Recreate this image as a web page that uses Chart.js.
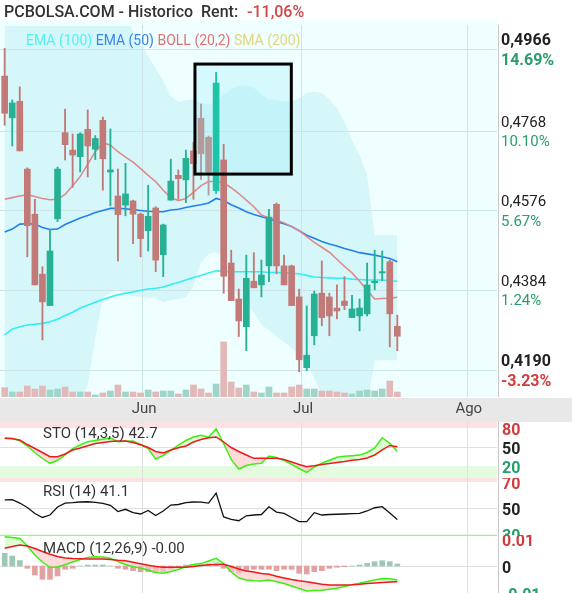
<!DOCTYPE html>
<html>
<head>
<meta charset="utf-8">
<script src="https://cdn.jsdelivr.net/npm/chart.js@4.4.1/dist/chart.umd.min.js"></script>
<style>
  html, body { margin: 0; padding: 0; background: #fff; }
  #wrap { position: relative; width: 572px; height: 593px; overflow: hidden; font-family: Roboto, sans-serif; }
  canvas { position: absolute; left: 0; }
  .txt { position: absolute; white-space: nowrap; line-height: 18px; }
  .panel-label { font-size: 15px; color: #333; }
</style>
</head>
<body>
<div id="wrap">
  <canvas id="mainChart" width="572" height="402" style="top:20px"></canvas>
  <canvas id="stoChart" width="572" height="56" style="top:422px"></canvas>
  <canvas id="rsiChart" width="572" height="57" style="top:478px"></canvas>
  <canvas id="macdChart" width="572" height="58" style="top:535px"></canvas>

  <div class="txt" style="left:4px;top:3px;font-size:16px;font-weight:500;color:#333">PCBOLSA.COM - Historico&nbsp; Rent:</div>
  <div class="txt" style="left:247px;top:3px;font-size:16px;font-weight:500;color:#d04545">-11,06%</div>
  <div class="txt" style="left:26px;top:31px;font-size:14px">
    <span style="color:#55eef2">EMA (100)</span>
    <span style="color:#3a84ee">EMA (50)</span>
    <span style="color:#e07272">BOLL (20,2)</span>
    <span style="color:#e2d67a">SMA (200)</span>
  </div>
  <div class="txt panel-label" style="left:43px;top:424px">STO (14,3,5) 42.7</div>
  <div class="txt panel-label" style="left:43px;top:482px">RSI (14) 41.1</div>
  <div class="txt panel-label" style="left:43px;top:539px">MACD (12,26,9) -0.00</div>
</div>

<script>
// daily candles, oldest first
const opens = [0.4901,0.4800,0.4840,0.4676,0.4567,0.4422,0.4346,0.4556,0.4764,0.4722,
  0.4706,0.4772,0.4724,0.4794,0.4669,0.4611,0.4589,0.4599,0.4567,0.4527,
  0.4582,0.4469,0.4601,0.4661,0.4650,0.4720,0.4799,0.4753,0.4624,0.4698,
  0.4449,0.4362,0.4295,0.4405,0.4396,0.4442,0.4591,0.4442,0.4442,0.4367,
  0.4196,0.4273,0.4376,0.4367,0.4340,0.4357,0.4317,0.4321,0.4326,0.4401,
  0.4425,0.4452,0.4296];
const highs = [0.4968,0.4843,0.4875,0.4679,0.4603,0.4440,0.4531,0.4681,0.4821,0.4761,
  0.4764,0.4819,0.4757,0.4802,0.4773,0.4676,0.4690,0.4601,0.4570,0.4637,
  0.4585,0.4543,0.4700,0.4674,0.4722,0.4741,0.4833,0.4756,0.4910,0.4736,
  0.4480,0.4386,0.4468,0.4474,0.4456,0.4579,0.4594,0.4468,0.4444,0.4386,
  0.4345,0.4381,0.4454,0.4376,0.4396,0.4416,0.4371,0.4362,0.4449,0.4480,
  0.4478,0.4456,0.4323];
const lows = [0.4782,0.4732,0.4720,0.4464,0.4396,0.4263,0.4346,0.4549,0.4698,0.4632,
  0.4669,0.4657,0.4699,0.4625,0.4587,0.4454,0.4563,0.4496,0.4464,0.4478,
  0.4428,0.4416,0.4601,0.4603,0.4595,0.4603,0.4651,0.4613,0.4617,0.4376,
  0.4358,0.4271,0.4237,0.4389,0.4367,0.4404,0.4423,0.4396,0.4346,0.4186,
  0.4189,0.4251,0.4297,0.4273,0.4314,0.4336,0.4317,0.4285,0.4321,0.4384,
  0.4406,0.4246,0.4237];
const closes = [0.4811,0.4836,0.4720,0.4539,0.4396,0.4355,0.4478,0.4676,0.4735,0.4710,
  0.4761,0.4732,0.4750,0.4701,0.4674,0.4566,0.4616,0.4567,0.4508,0.4562,
  0.4456,0.4541,0.4647,0.4653,0.4702,0.4689,0.4713,0.4669,0.4884,0.4417,
  0.4358,0.4309,0.4412,0.4389,0.4420,0.4560,0.4442,0.4396,0.4346,0.4215,
  0.4226,0.4374,0.4317,0.4321,0.4333,0.4346,0.4338,0.4340,0.4396,0.4405,
  0.4428,0.4326,0.4272];
// volume, thousands
const volumes = [93,50,50,110,80,110,70,80,100,50, 50,50,20,40,60,120,50,50,40,70,
  50,60,60,30,70,120,80,40,130,550, 150,90,120,50,40,100,40,40,100,120,
  80,80,60,60,50,40,30,60,70,60, 80,160,50];

const ema100 = [0.4275,0.4289,0.4295,0.4299,0.4301,0.4303,0.4307,0.4313,0.4322,0.4330,
  0.4340,0.4347,0.4354,0.4361,0.4367,0.4372,0.4376,0.4379,0.4383,0.4386,
  0.4388,0.4391,0.4397,0.4402,0.4408,0.4414,0.4419,0.4425,0.4430,0.4429,
  0.4428,0.4428,0.4428,0.4428,0.4428,0.4426,0.4426,0.4425,0.4424,0.4423,
  0.4419,0.4415,0.4414,0.4413,0.4412,0.4412,0.4410,0.4409,0.4408,0.4408,
  0.4408,0.4406,0.4405];
const ema50 = [0.4524,0.4531,0.4543,0.4544,0.4543,0.4535,0.4530,0.4531,0.4542,0.4550,
  0.4558,0.4564,0.4571,0.4576,0.4581,0.4581,0.4580,0.4578,0.4576,0.4574,
  0.4573,0.4573,0.4577,0.4579,0.4583,0.4587,0.4590,0.4594,0.4605,0.4600,
  0.4590,0.4582,0.4573,0.4566,0.4561,0.4556,0.4549,0.4544,0.4537,0.4527,
  0.4516,0.4509,0.4501,0.4495,0.4490,0.4484,0.4479,0.4474,0.4471,0.4468,
  0.4464,0.4460,0.4452];
const bollMid = [0.4603,0.4607,0.4611,0.4614,0.4610,0.4605,0.4602,0.4603,0.4615,0.4636,
  0.4658,0.4688,0.4718,0.4740,0.4734,0.4718,0.4705,0.4693,0.4677,0.4661,
  0.4646,0.4625,0.4607,0.4600,0.4605,0.4620,0.4636,0.4646,0.4646,0.4643,
  0.4631,0.4617,0.4601,0.4585,0.4565,0.4558,0.4553,0.4546,0.4537,0.4527,
  0.4513,0.4499,0.4487,0.4475,0.4458,0.4441,0.4425,0.4405,0.4383,0.4362,
  0.4363,0.4364,0.4366];
const bollUp = [0.5112,0.5121,0.5129,0.5135,0.5127,0.5117,0.5106,0.5101,0.5124,0.5167,
  0.5210,0.5221,0.5169,0.5115,0.5090,0.5051,0.5039,0.5012,0.4978,0.4949,
  0.4920,0.4889,0.4852,0.4838,0.4843,0.4845,0.4836,0.4833,0.4838,0.4857,
  0.4869,0.4877,0.4879,0.4872,0.4857,0.4845,0.4843,0.4840,0.4839,0.4848,
  0.4860,0.4863,0.4860,0.4845,0.4823,0.4790,0.4746,0.4710,0.4661,0.4516,
  0.4516,0.4516,0.4516];
const bollLow = [0.4093,0.4093,0.4093,0.4093,0.4093,0.4093,0.4098,0.4106,0.4106,0.4106,
  0.4106,0.4154,0.4267,0.4364,0.4379,0.4386,0.4371,0.4369,0.4367,0.4364,
  0.4367,0.4354,0.4359,0.4362,0.4367,0.4393,0.4451,0.4471,0.4475,0.4466,
  0.4408,0.4359,0.4347,0.4330,0.4299,0.4287,0.4272,0.4258,0.4243,0.4226,
  0.4205,0.4171,0.4130,0.4106,0.4093,0.4093,0.4103,0.4101,0.4106,0.4214,
  0.4214,0.4214,0.4214];

const stoK = [63.7,63.7,59.5,51.6,41.3,31.8,24.2,29.0,37.4,47.6,
  53.2,58.4,60.3,62.3,64.2,58.4,59.0,59.5,53.9,47.6,
  31.0,36.6,44.5,52.8,60.3,65.8,68.5,65.5,78.8,55.5,
  30.3,15.2,20.8,23.1,24.2,35.8,33.4,28.7,22.4,16.0,
  10.0,18.4,24.4,29.0,33.7,35.3,36.3,37.2,41.3,48.4,
  64.7,55.8,42.7];
const stoD = [63.7,63.0,61.1,53.9,47.6,41.3,34.7,34.7,38.9,45.3,
  48.4,51.9,55.5,57.1,58.7,59.5,59.5,57.1,53.5,49.2,
  42.9,40.5,45.3,48.7,51.6,57.9,61.8,64.7,65.8,57.9,
  49.2,42.9,37.4,32.1,32.1,32.1,32.1,30.3,26.3,22.4,
  18.9,20.3,22.4,23.9,25.5,27.1,29.0,30.4,32.6,37.4,
  45.3,52.4,50.5];
const rsi = [56.2,56.5,53.8,50.4,45.8,42.7,44.6,50.8,53.8,54.1,
  54.6,54.8,54.4,53.5,52.1,47.3,49.0,46.5,45.4,48.1,
  44.2,47.7,52.3,52.7,54.2,54.6,54.5,53.8,61.5,43.1,
  41.2,40.2,44.0,44.6,45.0,50.9,46.9,45.8,42.7,39.5,
  39.5,46.4,44.6,45.0,45.2,45.4,45.6,45.9,47.7,50.2,
  51.0,46.2,41.1];
const macd = [0.01085,0.01056,0.01019,0.00741,0.00407,0.00148,-0.00056,-0.00037,0.00044,0.00148,
  0.00241,0.00315,0.00341,0.00333,0.00285,0.00167,0.00056,-0.00026,-0.00074,-0.00148,
  -0.00241,-0.00270,-0.00204,-0.00130,-0.00019,0.00056,0.00089,0.00185,0.00285,0.00093,
  -0.00222,-0.00444,-0.00519,-0.00544,-0.00556,-0.00519,-0.00581,-0.00648,-0.00741,-0.00833,
  -0.00926,-0.00911,-0.00896,-0.00859,-0.00826,-0.00763,-0.00693,-0.00637,-0.00574,-0.00519,
  -0.00463,-0.00474,-0.00519];
const macdSignal = [0.00656,0.00722,0.00778,0.00741,0.00648,0.00537,0.00433,0.00352,0.00296,0.00274,
  0.00267,0.00259,0.00259,0.00259,0.00244,0.00215,0.00193,0.00137,0.00081,0.00030,
  -0.00019,-0.00048,-0.00048,-0.00048,-0.00048,-0.00019,0.00019,0.00044,0.00056,0.00063,
  -0.00019,-0.00111,-0.00185,-0.00226,-0.00274,-0.00307,-0.00381,-0.00441,-0.00500,-0.00548,
  -0.00581,-0.00626,-0.00674,-0.00704,-0.00704,-0.00704,-0.00696,-0.00678,-0.00648,-0.00630,
  -0.00611,-0.00593,-0.00581];
const macdHist = [0.00470,0.00370,0.00200,-0.00085,-0.00333,-0.00493,-0.00493,-0.00370,-0.00122,-0.00085,
  0,0.00037,0.00037,0.00037,0,-0.00085,-0.00122,-0.00174,-0.00211,-0.00211,
  -0.00248,-0.00211,-0.00122,-0.00063,0.00037,0.00063,0.00074,0.00100,0.00148,-0.00085,
  -0.00211,-0.00270,-0.00211,-0.00122,-0.00122,-0.00122,-0.00174,-0.00122,-0.00122,-0.00270,
  -0.00296,-0.00211,-0.00174,-0.00085,-0.00048,-0.00026,0,0.00037,0.00100,0.00159,
  0.00196,0.00159,0.00074];

// right axis
const priceTicks = [0.4966, 0.4768, 0.4576, 0.4384, 0.4190];
const priceLabels = ['0,4966', '0,4768', '0,4576', '0,4384', '0,4190'];
const pctLabels = ['14.69%', '10.10%', '5.67%', '1.24%', '-3.23%'];
// month starts, in candle index units
const monthPos = [18.2, 39.25, 61.2];
const monthLabels = ['Jun', 'Jul', 'Ago'];
// highlighted zone: [from index, to index, low price, high price]
const focusBox = [25.2, 37.96, 0.4664, 0.4930];

const stoLevels = [80, 50, 20];
const rsiLevels = [70, 50, 30];
const macdLevels = [0.01, 0, -0.01];
const macdLevelLabels = ['0.01', '0', '-0.01'];

const xMin = -0.62, xMax = 65.2;
const idx = closes.map((_, i) => i);
const pts = arr => arr.map((v, i) => ({ x: i, y: v }));
const gridColor = '#cde5e9';
const levelColors = ['#d03c3c', '#222', '#22a06a'];
const xScale = { type: 'linear', min: xMin, max: xMax, offset: false, display: false };

const inFocus = i => i > focusBox[0] && i < focusBox[1] && (opens[i] + closes[i]) / 2 > focusBox[2];
const candleColor = i => {
  const up = closes[i] >= opens[i];
  if (inFocus(i)) return up ? '#1fc3a8' : '#b39b9c';
  return up ? '#26b094' : '#c17a78';
};

function hLine(ctx, x0, x1, y) { ctx.beginPath(); ctx.moveTo(x0, y); ctx.lineTo(x1, y); ctx.stroke(); }
function vLine(ctx, x, y0, y1) { ctx.beginPath(); ctx.moveTo(x, y0); ctx.lineTo(x, y1); ctx.stroke(); }

const priceDecor = {
  id: 'priceDecor',
  beforeDraw(chart) {
    const { ctx, chartArea: a } = chart;
    ctx.save();
    ctx.fillStyle = '#effefe';
    ctx.fillRect(0, 0, a.right, a.bottom);
    ctx.restore();
  },
  beforeDatasetDraw(chart, args) {
    if (args.index !== 2) return; // after the bollinger band, before volume
    const { ctx, chartArea: a, scales: { x, y } } = chart;
    ctx.save();
    ctx.strokeStyle = gridColor;
    ctx.lineWidth = 1;
    priceTicks.forEach(p => hLine(ctx, 0, a.right, Math.round(y.getPixelForValue(p)) + 0.5));
    monthPos.forEach(m => vLine(ctx, Math.round(x.getPixelForValue(m)) + 0.5, a.top - 1, a.bottom));
    const bx0 = x.getPixelForValue(focusBox[0]), bx1 = x.getPixelForValue(focusBox[1]);
    const by0 = y.getPixelForValue(focusBox[3]), by1 = y.getPixelForValue(focusBox[2]);
    ctx.fillStyle = 'rgba(160,238,250,0.32)';
    ctx.fillRect(bx0, by0, bx1 - bx0, by1 - by0);
    ctx.restore();
  },
  afterDatasetsDraw(chart) {
    const { ctx, chartArea: a, scales: { x, y } } = chart;
    ctx.save();
    // highlighted zone frame
    const bx0 = x.getPixelForValue(focusBox[0]), bx1 = x.getPixelForValue(focusBox[1]);
    const by0 = y.getPixelForValue(focusBox[3]), by1 = y.getPixelForValue(focusBox[2]);
    ctx.strokeStyle = '#000';
    ctx.lineWidth = 3;
    ctx.strokeRect(bx0, by0, bx1 - bx0, by1 - by0);
    // right axis
    ctx.fillStyle = '#fff';
    ctx.fillRect(a.right, 0, chart.width - a.right, a.bottom);
    ctx.strokeStyle = '#c8c8c8';
    ctx.lineWidth = 1;
    vLine(ctx, a.right + 1.5, a.top - 1, a.bottom);
    ctx.textBaseline = 'middle';
    ctx.textAlign = 'left';
    priceTicks.forEach((p, k) => {
      const py = y.getPixelForValue(p);
      const strong = k === 0 || k === priceTicks.length - 1;
      ctx.fillStyle = '#222';
      ctx.font = strong ? 'bold 16px Roboto' : '15px Roboto';
      ctx.fillText(priceLabels[k], a.right + 4, py - 8);
      ctx.fillStyle = pctLabels[k].startsWith('-') ? '#d33c3c' : '#2a9d6c';
      ctx.fillText(pctLabels[k], a.right + 4, py + 11.5);
    });
    // time axis band
    ctx.fillStyle = '#e8e8e8';
    ctx.fillRect(0, a.bottom + 1, chart.width, chart.height - a.bottom - 1);
    ctx.fillStyle = '#444';
    ctx.font = '15px Roboto';
    ctx.textAlign = 'center';
    monthPos.forEach((m, k) => ctx.fillText(monthLabels[k], x.getPixelForValue(m) + 2, a.bottom + 12));
    ctx.restore();
  }
};

new Chart(document.getElementById('mainChart'), {
  type: 'line',
  data: {
    datasets: [
      { label: 'BOLL up', data: pts(bollUp), borderColor: 'transparent', pointRadius: 0,
        fill: '+1', backgroundColor: '#d6f7f9', order: 20 },
      { label: 'BOLL low', data: pts(bollLow), borderColor: 'transparent', pointRadius: 0,
        fill: false, order: 19 },
      { type: 'bar', label: 'Volumen', data: pts(volumes), yAxisID: 'yv',
        backgroundColor: idx.map(i => closes[i] >= opens[i] ? '#9fd6c9' : '#e3b8b8'),
        barThickness: 6, grouped: false, borderWidth: 0, order: 15 },
      { label: 'EMA (100)', data: pts(ema100), borderColor: '#30f0f0', borderWidth: 1.6,
        pointRadius: 0, fill: false, order: 8 },
      { label: 'EMA (50)', data: pts(ema50), borderColor: '#2080f0', borderWidth: 1.6,
        pointRadius: 0, fill: false, order: 7 },
      { label: 'BOLL (20,2)', data: pts(bollMid), borderColor: '#e08a8a', borderWidth: 1.6,
        pointRadius: 0, fill: false, order: 6 },
      { type: 'bar', label: 'wick', data: idx.map(i => ({ x: i, y: [lows[i], highs[i]] })),
        backgroundColor: idx.map(candleColor), barThickness: 1.2, grouped: false,
        borderWidth: 0, borderSkipped: false, order: 2 },
      { type: 'bar', label: 'body', data: idx.map(i => ({ x: i, y: [opens[i], closes[i]] })),
        backgroundColor: idx.map(candleColor), barThickness: 6, grouped: false, minBarLength: 1,
        borderWidth: 0, borderSkipped: false, order: 1 }
    ]
  },
  options: {
    responsive: false,
    animation: false,
    events: [],
    layout: { padding: { left: 0, right: 75, top: 6, bottom: 25 } },
    scales: {
      x: xScale,
      y: { min: 0.4125, max: 0.5022, display: false },
      yv: { min: 0, max: 3710, display: false }
    },
    plugins: { legend: { display: false }, tooltip: { enabled: false } }
  },
  plugins: [priceDecor]
});

function panelDecor(cfg) {
  return {
    id: 'panelDecor',
    beforeDatasetsDraw(chart) {
      const { ctx, chartArea: a, scales: { x, y } } = chart;
      ctx.save();
      ctx.fillStyle = '#fff';
      ctx.fillRect(0, 0, chart.width, chart.height);
      (cfg.bands || []).forEach(b => {
        const y0 = y.getPixelForValue(b[1]), y1 = y.getPixelForValue(b[0]);
        ctx.fillStyle = b[2];
        ctx.fillRect(0, y0, a.right, y1 - y0);
      });
      ctx.strokeStyle = '#e0e0e0';
      ctx.lineWidth = 1;
      cfg.grid.forEach(g => hLine(ctx, 0, a.right, Math.round(y.getPixelForValue(g)) + 0.5));
      monthPos.forEach(m => vLine(ctx, Math.round(x.getPixelForValue(m)) + 0.5, 0, chart.height));
      if (cfg.topLine) {
        ctx.strokeStyle = '#cfcfcf';
        hLine(ctx, 0, a.right + 1, 0.5);
      }
      ctx.restore();
    },
    afterDatasetsDraw(chart) {
      const { ctx, chartArea: a, scales: { y } } = chart;
      ctx.save();
      ctx.fillStyle = '#fff';
      ctx.fillRect(a.right, 0, chart.width - a.right, chart.height);
      ctx.strokeStyle = '#c8c8c8';
      ctx.lineWidth = 1;
      vLine(ctx, a.right + 1.5, 0, chart.height);
      ctx.font = 'bold 16px Roboto';
      ctx.textBaseline = 'middle';
      ctx.textAlign = 'left';
      cfg.levels.forEach((lv, k) => {
        ctx.fillStyle = levelColors[k];
        ctx.fillText(cfg.labels[k], a.right + 5, y.getPixelForValue(lv) + 3);
      });
      ctx.restore();
    }
  };
}

function makePanel(id, cfg) {
  return new Chart(document.getElementById(id), {
    type: 'line',
    data: { datasets: cfg.datasets },
    options: {
      responsive: false,
      animation: false,
      events: [],
      layout: { padding: { left: 0, right: 75, top: 0, bottom: 0 } },
      scales: {
        x: xScale,
        y: { min: cfg.min, max: cfg.max, display: false }
      },
      plugins: { legend: { display: false }, tooltip: { enabled: false } }
    },
    plugins: [panelDecor(cfg)]
  });
}

const pinkFill = 'rgba(255,200,200,0.65)';
const greenFill = 'rgba(205,255,195,0.7)';

makePanel('stoChart', {
  min: 1, max: 89.5,
  bands: [[80, 89.5, '#fce2e2'], [1, 20, '#e5fbe0']],
  grid: [50],
  levels: stoLevels, labels: stoLevels.map(String),
  datasets: [
    { label: '%K', data: pts(stoK), borderColor: '#3cee14', borderWidth: 1.5, pointRadius: 0,
      fill: { target: 1, above: greenFill, below: pinkFill }, order: 2 },
    { label: '%D', data: pts(stoD), borderColor: '#ee1a1a', borderWidth: 1.5, pointRadius: 0,
      fill: false, order: 1 }
  ]
});

makePanel('rsiChart', {
  min: 29.23, max: 73.08,
  bands: [[70, 73.08, '#fce2e2'], [29.23, 30, '#e5fbe0']],
  grid: [50],
  levels: rsiLevels, labels: rsiLevels.map(String),
  datasets: [
    { label: 'RSI', data: pts(rsi), borderColor: '#111', borderWidth: 1.3, pointRadius: 0, fill: false }
  ]
});

makePanel('macdChart', {
  min: -0.0100, max: 0.01148,
  grid: [0],
  topLine: true,
  levels: macdLevels, labels: macdLevelLabels,
  datasets: [
    { type: 'bar', label: 'hist', data: pts(macdHist),
      backgroundColor: macdHist.map(v => v >= 0 ? '#9cc9b6' : '#e2a2a2'),
      barThickness: 5, grouped: false, borderWidth: 0, order: 3 },
    { label: 'MACD', data: pts(macd), borderColor: '#3cee14', borderWidth: 1.5, pointRadius: 0,
      fill: { target: 2, above: greenFill, below: pinkFill }, order: 2 },
    { label: 'Signal', data: pts(macdSignal), borderColor: '#ee1a1a', borderWidth: 1.5, pointRadius: 0,
      fill: false, order: 1 }
  ]
});
</script>
</body>
</html>
